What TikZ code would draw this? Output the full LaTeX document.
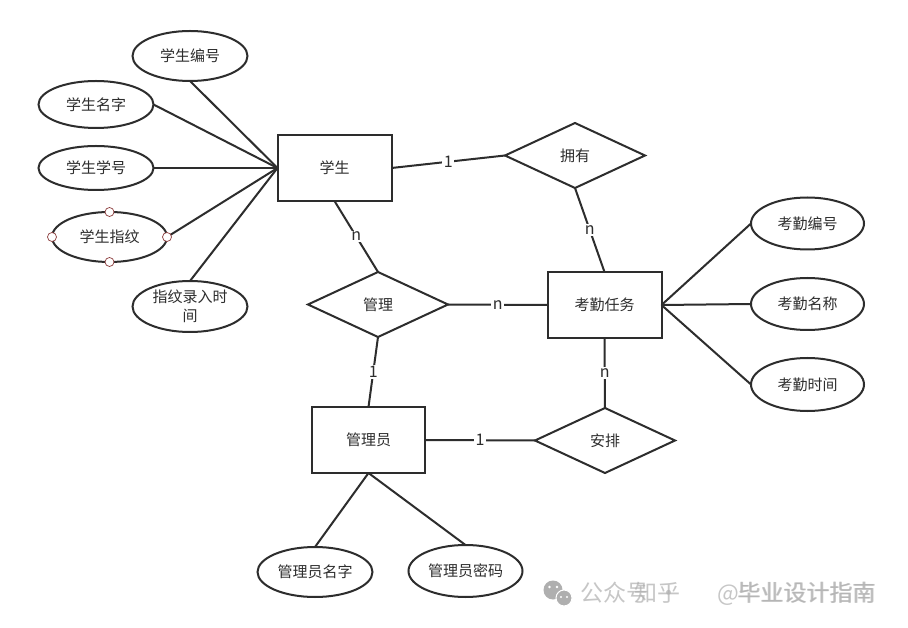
\documentclass[tikz,border=0pt]{standalone}
\usepackage{fontspec}
\setmainfont{Noto Sans CJK SC}
\usetikzlibrary{shapes.geometric}
\definecolor{ink}{RGB}{45,45,45}
\definecolor{handle}{RGB}{140,60,60}
\definecolor{wm}{RGB}{175,175,175}
\tikzset{
  base/.style={draw=ink, line width=2pt, inner sep=0pt, outer sep=0pt, text=ink, font=\fontsize{15}{18}\selectfont},
  entity/.style={base, rectangle, minimum width=114pt, minimum height=66pt},
  attr/.style={base, ellipse, minimum width=115pt, minimum height=51pt},
  rel/.style={base, diamond, minimum width=140pt, minimum height=65pt},
  conn/.style={draw=ink, line width=2pt},
  card/.style={fill=white, inner sep=1.5pt, text=ink, font=\fontsize{16}{18}\selectfont},
  grip/.style={circle, draw=handle, fill=white, line width=0.7pt, minimum size=9pt, inner sep=0pt},
  wmtext/.style={text=wm, font=\fontsize{23}{25}\selectfont, opacity=0.7, inner sep=0pt},
}
\begin{document}
\begin{tikzpicture}[x=1pt, y=-1pt]
\useasboundingbox[fill=white] (0,0) rectangle (908,628);

% entities
\node[entity] (xs) at (334.5,168) {学生};
\node[entity] (kq) at (604.5,305) {考勤任务};
\node[entity, minimum width=113pt] (gly) at (368.5,440) {管理员};

% relationships
\node[rel] (yy) at (575,155.5) {拥有};
\node[rel] (gl) at (378,304.5) {管理};
\node[rel] (ap) at (605,440.5) {安排};

% attributes of 学生
\node[attr, minimum height=50pt] (xsbh) at (190,56) {学生编号};
\node[attr, minimum height=47pt] (xsmz) at (96,104.5) {学生名字};
\node[attr, minimum height=44pt] (xsxh) at (96,168) {学生学号};
\node[attr, minimum height=50pt] (xszw) at (109.5,237) {学生指纹};
\node[attr, align=center, font=\fontsize{15}{19}\selectfont] (zwsj) at (190,306.5) {指纹录入时\\间};

% attributes of 考勤任务
\node[attr, minimum width=113pt, minimum height=52pt] (kqbh) at (807.5,223.5) {考勤编号};
\node[attr, minimum width=113pt, minimum height=52pt] (kqmc) at (807.5,304) {考勤名称};
\node[attr, minimum width=113pt, minimum height=53pt] (kqsj) at (807.5,384.5) {考勤时间};

% attributes of 管理员
\node[attr, minimum width=115pt, minimum height=50pt] (glymz) at (315,572) {管理员名字};
\node[attr, minimum width=114pt, minimum height=52pt] (glymm) at (465.5,571) {管理员密码};

% attribute connectors
\draw[conn] (xsbh.south) -- (xs.west);
\draw[conn] (xsmz.east) -- (xs.west);
\draw[conn] (xsxh.east) -- (xs.west);
\draw[conn] (xszw.east) -- (xs.west);
\draw[conn] (zwsj.north) -- (xs.west);
\draw[conn] (kq.east) -- (kqbh.west);
\draw[conn] (kq.east) -- (kqmc.west);
\draw[conn] (kq.east) -- (kqsj.west);
\draw[conn] (gly.south) -- (glymz.north);
\draw[conn] (gly.south) -- (glymm.north);

% selection handles on 学生指纹
\node[grip] (g1) at (xszw.north) {};
\node[grip] (g2) at (xszw.south) {};
\node[grip] (g3) at (xszw.west) {};
\node[grip] (g4) at (xszw.east) {};

% relationship connectors
\draw[conn] (xs.east) -- node[card] {1} (yy.west);
\draw[conn] (yy.south) -- node[card] {n} (kq.north);
\draw[conn] (xs.south) -- node[card] {n} (gl.north);
\draw[conn] (gl.east) -- node[card] {n} (kq.west);
\draw[conn] (gl.south) -- node[card] {1} (gly.north);
\draw[conn] (gly.east) -- node[card] {1} (ap.west);
\draw[conn] (kq.south) -- node[card] {n} (ap.north);

% watermark (two overlapping captions, as in the reference)
\fill[wm] (553,590) circle (9.5pt);
\fill[wm, draw=white, line width=1pt] (564,598) circle (8pt);
\fill[white] (549.5,587) circle (1.4pt) (557,587) circle (1.4pt) (561,597) circle (1.1pt) (567,597) circle (1.1pt);
\node[wmtext, anchor=west] (wm1) at (580,593) {公众号\hspace{8pt}·\hspace{57pt}毕业设计指南};
\node[wmtext, anchor=east] (wm2) at (877,594) {知乎\hspace{37pt}@毕业设计指南};
\end{tikzpicture}
\end{document}
